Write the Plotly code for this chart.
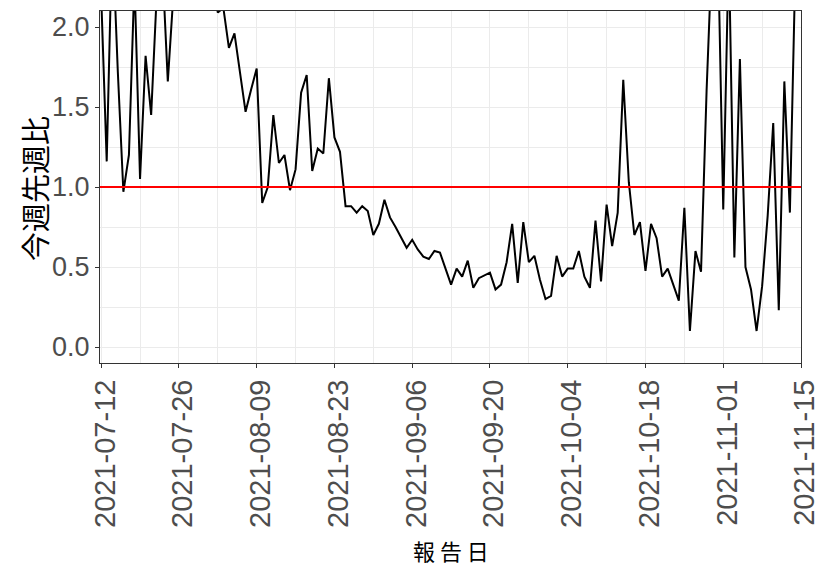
import pandas as pd
import plotly.graph_objects as go

# daily week-over-week ratio, starting 2021-07-12 (values above 2.1 are clipped by the axis)
start_date = "2021-07-12"
ratio = [
    2.2, 1.16, 2.6, 1.72, 0.97, 1.2, 2.3, 1.05, 1.82, 1.45,
    2.2, 2.4, 1.66, 2.2, 2.5, 2.7, 2.9, 2.8, 2.6, 2.5,
    2.3, 2.09, 2.12, 1.87, 1.96, 1.72, 1.47, 1.61, 1.74, 0.90,
    1.00, 1.45, 1.15, 1.20, 0.98, 1.11, 1.59, 1.70, 1.10, 1.24,
    1.21, 1.68, 1.31, 1.22, 0.88, 0.88, 0.84, 0.88, 0.85, 0.70,
    0.77, 0.92, 0.81, 0.75, 0.68, 0.62, 0.67, 0.61, 0.565, 0.55,
    0.60, 0.59, 0.49, 0.39, 0.49, 0.44, 0.54, 0.37, 0.43, 0.45,
    0.465, 0.36, 0.39, 0.53, 0.77, 0.40, 0.78, 0.53, 0.57, 0.42,
    0.30, 0.32, 0.57, 0.44, 0.49, 0.49, 0.60, 0.44, 0.37, 0.79,
    0.41, 0.89, 0.63, 0.84, 1.67, 1.03, 0.70, 0.78, 0.475, 0.77,
    0.68, 0.44, 0.49, 0.39, 0.29, 0.87, 0.10, 0.60, 0.47, 1.6,
    2.5, 2.6, 0.86, 2.5, 0.56, 1.80, 0.50, 0.36, 0.10, 0.38,
    0.82, 1.40, 0.23, 1.66, 0.84, 2.4,
]
dates = pd.date_range(start_date, periods=len(ratio), freq="D")

threshold = 1.0
x_ticks = ["2021-07-12", "2021-07-26", "2021-08-09", "2021-08-23", "2021-09-06",
           "2021-09-20", "2021-10-04", "2021-10-18", "2021-11-01", "2021-11-15"]
y_ticks = [0.0, 0.5, 1.0, 1.5, 2.0]

GRID = "#EBEBEB"
BORDER = "#333333"
X_TICK_FONT = dict(family="Liberation Sans, Arial, sans-serif", size=29, color="#4D4D4D")
Y_TICK_FONT = dict(family="Liberation Sans, Arial, sans-serif", size=27, color="#4D4D4D")
CJK = "Noto Sans CJK JP"

fig = go.Figure()

fig.add_trace(
    go.Scatter(
        x=dates,
        y=ratio,
        mode="lines",
        line=dict(color="black", width=2),
        name="今週先週比"
    )
)

# reference line at ratio 1
fig.add_hline(y=threshold, line=dict(color="#FF0000", width=2))

# page body adds an 8px offset, so the figure is a bit smaller than the window
fig.update_layout(
    width=821,
    height=559,
    margin=dict(l=92, r=28, t=3, b=204),
    plot_bgcolor="white",
    paper_bgcolor="white",
    showlegend=False
)

fig.update_xaxes(
    range=["2021-07-11 19:00", "2021-11-15"],
    automargin=False,
    tickvals=x_ticks,
    ticktext=x_ticks,
    tickangle=-90,
    ticklabelshift=4,
    tickfont=X_TICK_FONT,
    ticks="outside",
    ticklen=4,
    tickcolor=BORDER,
    showline=True,
    mirror=True,
    linecolor=BORDER,
    linewidth=1,
    showgrid=True,
    gridcolor=GRID,
    gridwidth=1.2,
    zeroline=False,
    minor=dict(tickvals=pd.date_range("2021-07-05", "2021-11-22", freq="14D"),
               showgrid=True, gridcolor=GRID, gridwidth=0.6, ticks="")
)

fig.update_yaxes(
    range=[-0.1, 2.1],
    automargin=False,
    tickvals=y_ticks,
    tickformat=".1f",
    tickfont=Y_TICK_FONT,
    ticks="outside",
    ticklen=4,
    tickcolor=BORDER,
    showline=True,
    mirror=True,
    linecolor=BORDER,
    linewidth=1,
    showgrid=True,
    gridcolor=GRID,
    gridwidth=1.2,
    zeroline=False,
    minor=dict(tickvals=[0.25, 0.75, 1.25, 1.75],
               showgrid=True, gridcolor=GRID, gridwidth=0.6, ticks="")
)

# axis titles
fig.add_annotation(
    text="今週先週比", textangle=-90,
    xref="paper", yref="paper", x=0, y=0.5,
    xanchor="center", yanchor="middle", xshift=-66, yshift=-2,
    showarrow=False,
    font=dict(family=CJK, size=29, color="black")
)
fig.add_annotation(
    text="報 告 日",
    xref="paper", yref="paper", x=0.5, y=0,
    xanchor="center", yanchor="middle", yshift=-187,
    showarrow=False,
    font=dict(family=CJK, size=22, color="black")
)

fig.write_html("out.html")
